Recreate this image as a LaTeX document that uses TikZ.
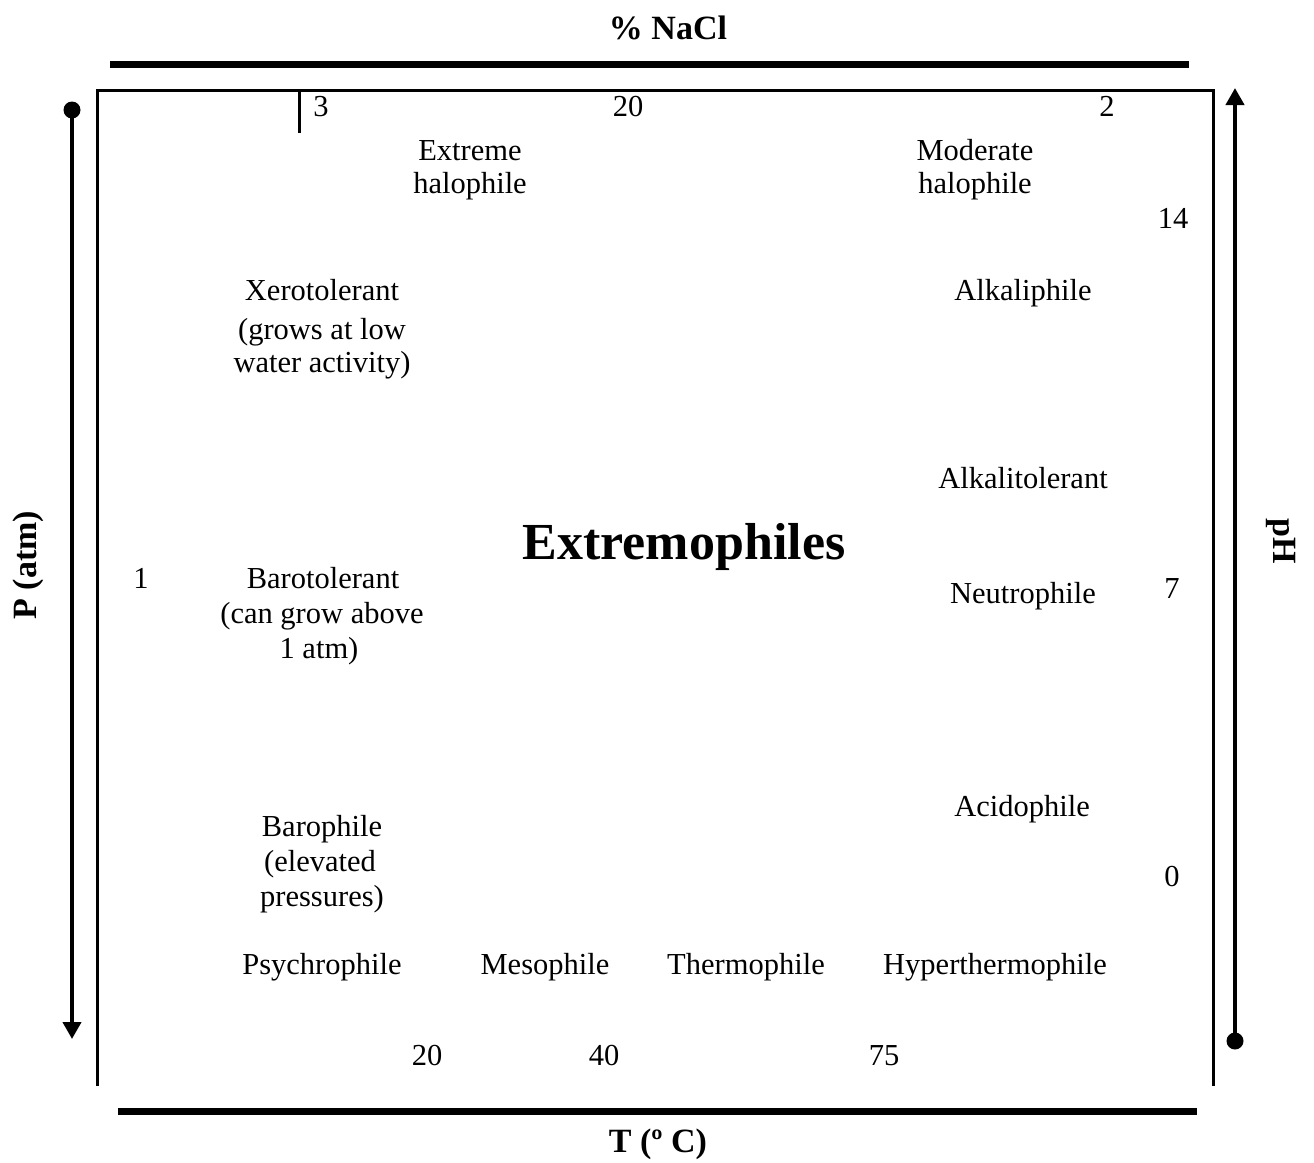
\documentclass[tikz,border=0pt]{standalone}
\usepackage{fontspec}
\setmainfont{Liberation Serif}
\usetikzlibrary{arrows.meta}
\begin{document}
\begin{tikzpicture}[x=1pt,y=-1pt,
  lbl/.style={font=\fontsize{30.5}{34}\selectfont, anchor=base, inner sep=0pt, align=center},
  ttl/.style={font=\fontsize{34}{38}\selectfont\bfseries, anchor=base, inner sep=0pt},
  frame/.style={line width=3pt},
  bar/.style={line width=7pt},
  axarrow/.style={line width=4pt, -{Triangle[length=17pt,width=18pt]}},
  dotend/.style={fill=black, draw=none}]
\useasboundingbox (0,0) rectangle (1314,1162);
% frame
\coordinate (bl) at (97,1086);
\coordinate (tl) at (97,90);
\coordinate (tr) at (1213,90);
\coordinate (br) at (1213,1086);
\draw[frame] (bl) -- (tl) -- (tr) -- (br);
\coordinate (tk1) at (299,90);
\coordinate (tk2) at (299,133);
\draw[frame] (tk1) -- (tk2);
% thick bars
\coordinate (tb1) at (110,64);
\coordinate (tb2) at (1189,64);
\draw[bar] (tb1) -- (tb2);
\coordinate (bb1) at (118,1111);
\coordinate (bb2) at (1197,1111);
\draw[bar] (bb1) -- (bb2);
% axis arrows
\coordinate (pstart) at (72,110);
\coordinate (pend) at (72,1039);
\fill[dotend] (pstart) circle (8.5);
\draw[axarrow] (pstart) -- (pend);
\coordinate (hstart) at (1235,1041);
\coordinate (hend) at (1235,88);
\fill[dotend] (hstart) circle (8.5);
\draw[axarrow] (hstart) -- (hend);
% axis titles
\node[ttl] (nacl) at (668,39) {\% NaCl};
\node[ttl] (temp) at (658,1152) {T (º C)};
\node[ttl, rotate=90, anchor=center] (press) at (28,565) {P (atm)};
\node[ttl, rotate=-90, anchor=center] (ph) at (1281,541) {pH};
\node[font=\fontsize{52}{56}\selectfont\bfseries, anchor=base, inner sep=0pt] (main) at (684,559) {Extremophiles};
% numbers
\node[lbl] (n3) at (321,116) {3};
\node[lbl] (n20a) at (628,116) {20};
\node[lbl] (n2) at (1107,116) {2};
\node[lbl] (n14) at (1173,228) {14};
\node[lbl] (n7) at (1172,598) {7};
\node[lbl] (n0) at (1172,886) {0};
\node[lbl] (n1) at (141,588) {1};
\node[lbl] (n20b) at (427,1065) {20};
\node[lbl] (n40) at (604,1065) {40};
\node[lbl] (n75) at (884,1065) {75};
% labels
\node[lbl] (ext1) at (470,160) {Extreme};
\node[lbl] (ext2) at (470,193) {halophile};
\node[lbl] (mod1) at (975,160) {Moderate};
\node[lbl] (mod2) at (975,193) {halophile};
\node[lbl] (xer1) at (322,300) {Xerotolerant};
\node[lbl] (xer2) at (322,339) {(grows at low};
\node[lbl] (xer3) at (322,372) {water activity)};
\node[lbl] (alk) at (1023,300) {Alkaliphile};
\node[lbl] (alkt) at (1023,488) {Alkalitolerant};
\node[lbl] (bt1) at (323,588) {Barotolerant};
\node[lbl] (bt2) at (322,623) {(can grow above};
\node[lbl] (bt3) at (319,658) {1 atm)};
\node[lbl] (neu) at (1023,603) {Neutrophile};
\node[lbl] (aci) at (1022,816) {Acidophile};
\node[lbl] (bp1) at (322,836) {Barophile};
\node[lbl] (bp2) at (320,871) {(elevated};
\node[lbl] (bp3) at (322,906) {pressures)};
\node[lbl] (psy) at (322,974) {Psychrophile};
\node[lbl] (mes) at (545,974) {Mesophile};
\node[lbl] (the) at (746,974) {Thermophile};
\node[lbl] (hyp) at (995,974) {Hyperthermophile};
\end{tikzpicture}
\end{document}
